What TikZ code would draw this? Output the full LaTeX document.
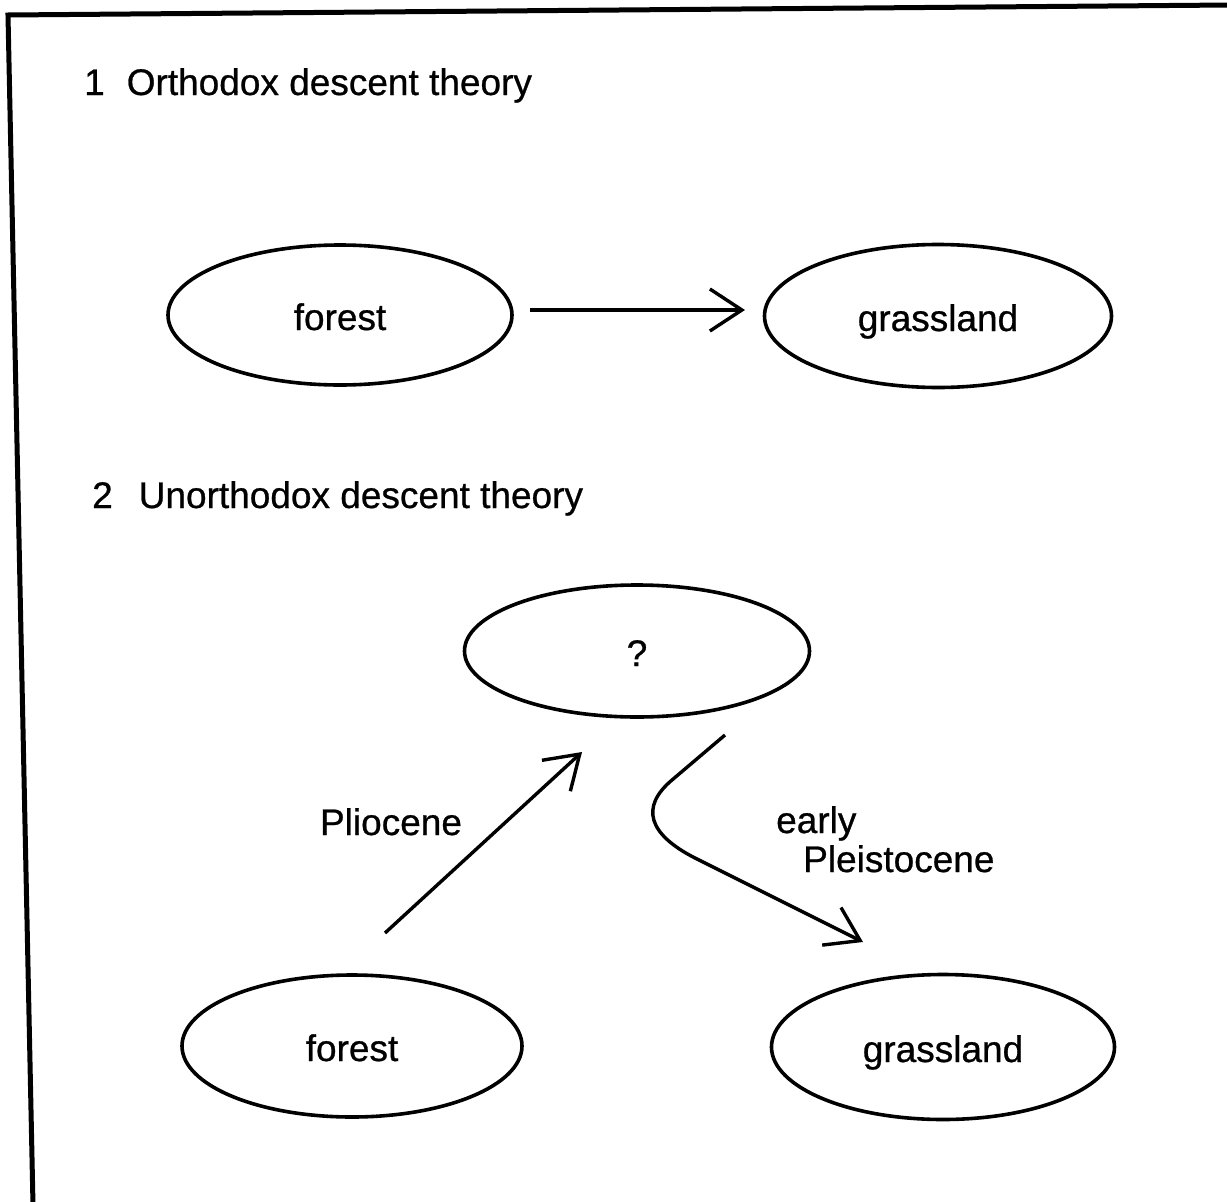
\documentclass[tikz,border=0pt]{standalone}
\usepackage{fontspec}
\setmainfont{Liberation Sans}[FakeBold=0.7]
\usetikzlibrary{shapes.geometric,arrows.meta}
\begin{document}
\begin{tikzpicture}[x=1pt,y=-1pt,
  txt/.style={font=\fontsize{37}{44}\selectfont, inner sep=0pt},
  ell/.style={draw, ellipse, line width=3.6pt, inner sep=0pt, text height=30pt, text depth=0pt, font=\fontsize{37}{44}\selectfont},
  arr/.style={line width=3.4pt, -{Straight Barb[length=32pt,width=42pt,line width=3.4pt]}},
  frame/.style={line width=5pt}]
\useasboundingbox (0,0) rectangle (1227,1202);
\draw[frame] (33,1205) -- (8,15) -- (1230,5);

\node[txt, anchor=base west] (t1) at (84,95) {1\hspace{22pt}Orthodox descent theory};
\node[txt, anchor=base west] (t2) at (92,508) {2\hspace{26pt}Unorthodox descent theory};

\node[ell, minimum width=344pt, minimum height=140pt] (f1) at (340,315) {forest};
\node[ell, minimum width=347pt, minimum height=143pt] (g1) at (938,316) {grassland};
\draw[arr] (f1.east) ++(16,-5) coordinate (a1s) -- (745,310) coordinate (a1e);

\node[ell, minimum width=345pt, minimum height=132pt] (q) at (637,651) {?};
\node[ell, minimum width=340pt, minimum height=142pt] (f2) at (352,1046) {forest};
\node[ell, minimum width=343pt, minimum height=145pt] (g2) at (943,1047) {grassland};

\coordinate (p1) at (385,933);
\coordinate (p2) at (582,752);
\draw[arr] (p1) -- (p2);
\node[txt, anchor=base] (lp) at (391,835) {Pliocene};

\coordinate (c1) at (725,735);
\coordinate (c2) at (672,780);
\coordinate (c3) at (695,858);
\coordinate (c4) at (863,942);
\draw[arr] (c1) -- (c2) .. controls (640,807) and (648,834) .. (c3) -- (c4);
\node[txt, anchor=base west] (le) at (776,833) {early};
\node[txt, anchor=base west] (lpl) at (803,872) {Pleistocene};
\end{tikzpicture}
\end{document}
